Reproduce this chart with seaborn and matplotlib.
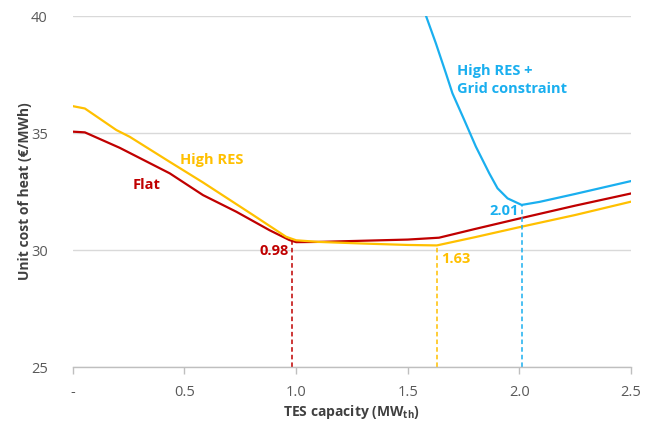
import matplotlib
matplotlib.use("Agg")
import matplotlib.pyplot as plt
import seaborn as sns
import pandas as pd

# ---- data ----
flat_x = [0, 0.054, 0.21, 0.434, 0.583, 0.732, 0.881, 0.97, 1.0, 1.1, 1.3, 1.5, 1.64, 1.8, 2.0, 2.25, 2.5]
flat_y = [35.06, 35.03, 34.37, 33.28, 32.35, 31.64, 30.85, 30.43, 30.34, 30.35, 30.4, 30.45, 30.53, 30.9, 31.35, 31.9, 32.42]

highres_x = [0, 0.054, 0.195, 0.255, 0.434, 0.583, 0.807, 0.955, 1.0, 1.1, 1.3, 1.5, 1.63, 1.8, 2.0, 2.25, 2.5]
highres_y = [36.15, 36.05, 35.13, 34.84, 33.77, 32.89, 31.5, 30.57, 30.42, 30.35, 30.28, 30.22, 30.2, 30.55, 30.98, 31.5, 32.07]

grid_x = [1.58, 1.626, 1.671, 1.70, 1.753, 1.805, 1.865, 1.902, 1.947, 2.01, 2.09, 2.25, 2.5]
grid_y = [40.05, 38.83, 37.55, 36.7, 35.56, 34.42, 33.28, 32.64, 32.21, 31.93, 32.06, 32.4, 32.95]

series_names = ["Flat", "High RES", "High RES + Grid constraint"]
optima_x = [0.98, 1.63, 2.01]
optima_y = [30.38, 30.2, 31.93]
optima_labels = ["0.98", "1.63", "2.01"]

x_ticks = [0, 0.5, 1.0, 1.5, 2.0, 2.5]
x_tick_labels = ["-", "0.5", "1.0", "1.5", "2.0", "2.5"]
y_ticks = [25, 30, 35, 40]

colors = {"Flat": "#C00000", "High RES": "#FFC000", "High RES + Grid constraint": "#1AAFEF"}

df = pd.concat([
    pd.DataFrame({"x": flat_x, "y": flat_y, "s": "Flat"}),
    pd.DataFrame({"x": highres_x, "y": highres_y, "s": "High RES"}),
    pd.DataFrame({"x": grid_x, "y": grid_y, "s": "High RES + Grid constraint"}),
])

sns.set_theme(style="white")
plt.rcParams["font.family"] = ["Open Sans", "DejaVu Sans"]

FS = 10

fig = plt.figure(figsize=(6.56, 4.22), dpi=100)
ax = fig.add_axes([0.111, 0.130, 0.851, 0.832])

sns.lineplot(data=df, x="x", y="y", hue="s", palette=colors, linewidth=1.6,
             legend=False, ax=ax, sort=False, estimator=None)

ax.set_xlim(0, 2.5)
ax.set_ylim(25, 40)
ax.set_yticks(y_ticks)
ax.set_xticks(x_ticks)
ax.set_xticklabels(x_tick_labels)
ax.grid(axis="y", color="#D9D9D9", linewidth=1)
ax.set_axisbelow(True)
for sp in ["top", "right", "left"]:
    ax.spines[sp].set_visible(False)
ax.spines["bottom"].set_color("#BFBFBF")
ax.spines["bottom"].set_linewidth(1)
ax.tick_params(axis="x", bottom=True, length=5, width=1, color="#BFBFBF",
               labelsize=FS + 0.5, labelcolor="#595959", pad=8)
ax.tick_params(axis="y", left=False, labelsize=FS + 0.5, labelcolor="#595959", pad=12)

ax.set_xlabel("TES capacity (MW$_{\\mathregular{th}}$)", fontsize=FS, fontweight="bold",
              color="#404040", labelpad=2)
ax.set_ylabel("Unit cost of heat (€/MWh)", fontsize=FS, fontweight="bold",
              color="#404040", labelpad=-1)

# optimum markers
for name, ox, oy in zip(series_names, optima_x, optima_y):
    ax.plot([ox, ox], [25, oy], linestyle=(0, (3, 2)), color=colors[name], linewidth=1.1)

ax.text(0.965, 29.95, optima_labels[0], color=colors["Flat"], fontsize=FS + 0.5,
        fontweight="bold", ha="right", va="center")
ax.text(1.65, 29.6, optima_labels[1], color=colors["High RES"], fontsize=FS + 0.5,
        fontweight="bold", ha="left", va="center")
ax.text(1.995, 31.65, optima_labels[2], color=colors["High RES + Grid constraint"],
        fontsize=FS + 0.5, fontweight="bold", ha="right", va="center")

# series labels
ax.text(0.48, 33.85, "High RES", color=colors["High RES"], fontsize=FS + 0.5,
        fontweight="bold", ha="left", va="center")
ax.text(0.27, 32.8, "Flat", color=colors["Flat"], fontsize=FS + 0.5,
        fontweight="bold", ha="left", va="center")
ax.text(1.72, 37.25, "High RES +\nGrid constraint", color=colors["High RES + Grid constraint"],
        fontsize=FS + 0.5, fontweight="bold", ha="left", va="center", linespacing=1.35)

fig.savefig("out.png", dpi=100)
